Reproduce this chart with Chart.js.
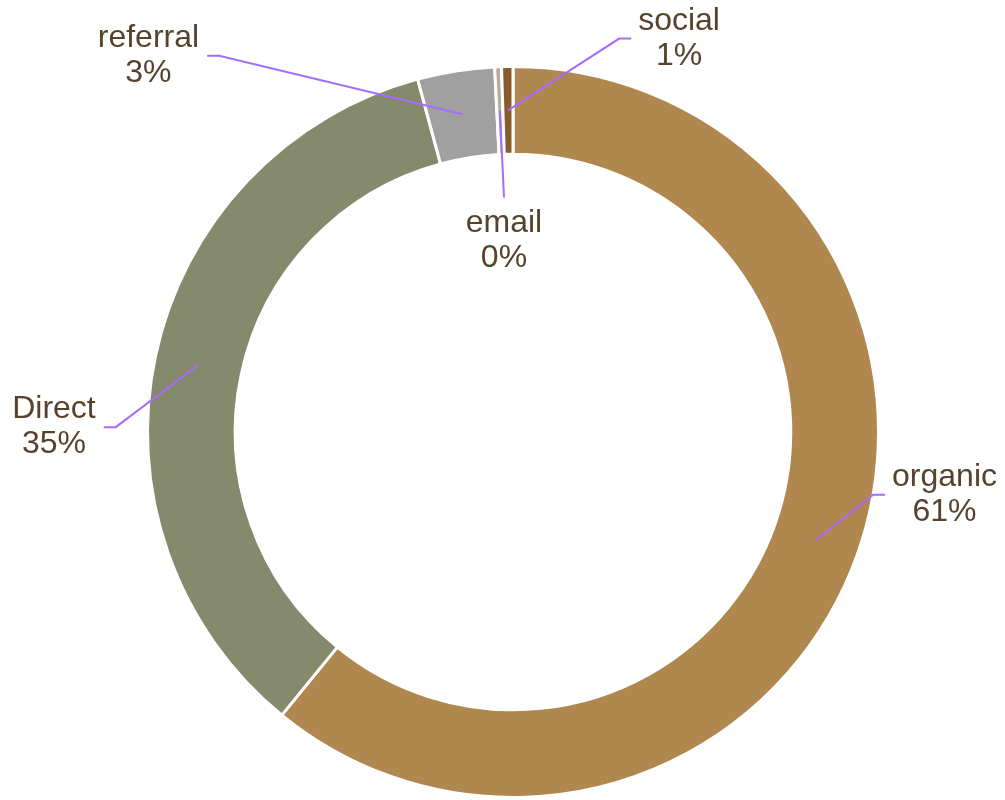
<!DOCTYPE html>
<html lang="en">
<head>
<meta charset="UTF-8">
<title>Traffic sources</title>
<script src="https://cdn.jsdelivr.net/npm/chart.js"></script>
<style>
  html, body { margin: 0; padding: 0; background: #fff; }
  #wrap { width: 1005px; height: 800px; }
</style>
</head>
<body>
<div id="wrap"><canvas id="srcChart" width="1005" height="800"></canvas></div>
<script>
// data
const sources = ['organic', 'Direct', 'referral', 'email', 'social'];
const shares = [60.9, 34.9, 3.4, 0.3, 0.5];
const sliceColors = ['#b0874f', '#868a6c', '#a0a0a0', '#b8ab9b', '#8a5a2f'];

// where each label's leader line bends: clock angle (deg from top), radius as part of outer radius, side
const labelLayout = [
  { angle: 99.9, r: 1.0, side: 'right' },
  { angle: 270.7, r: 1.087, side: 'left' },
  { angle: 322, r: 1.306, side: 'left' },
  { angle: 357.8, r: 0.642, side: 'below' },
  { angle: 15.1, r: 1.115, side: 'right' }
];

const LINE_COLOR = '#a66cff';
const TEXT_COLOR = '#57422b';
const FONT = '32px "Liberation Sans", Arial, sans-serif';

const leaderLabels = {
  id: 'leaderLabels',
  afterDraw(chart) {
    const ctx = chart.ctx;
    const meta = chart.getDatasetMeta(0);
    const total = shares.reduce((a, b) => a + b, 0);
    ctx.save();
    ctx.font = FONT;
    meta.data.forEach((arc, i) => {
      const p = arc.getProps(['x', 'y', 'startAngle', 'endAngle', 'innerRadius', 'outerRadius'], true);
      const mid = (p.startAngle + p.endAngle) / 2;
      const rMid = (p.innerRadius + p.outerRadius) / 2;
      const sx = p.x + Math.cos(mid) * rMid;
      const sy = p.y + Math.sin(mid) * rMid;
      const lay = labelLayout[i];
      const a = lay.angle * Math.PI / 180;
      const ex = p.x + Math.sin(a) * p.outerRadius * lay.r;
      const ey = p.y - Math.cos(a) * p.outerRadius * lay.r;

      const lines = [sources[i], Math.round(shares[i] / total * 100) + '%'];
      const w = Math.max(...lines.map(t => ctx.measureText(t).width));

      ctx.strokeStyle = LINE_COLOR;
      ctx.lineWidth = 2;
      ctx.beginPath();
      ctx.moveTo(sx, sy);
      ctx.lineTo(ex, ey);
      let tx, ty;
      if (lay.side === 'right') {
        ctx.lineTo(ex + 12, ey);
        tx = ex + 12 + 7 + w / 2;
        ty = ey - 17.5;
      } else if (lay.side === 'left') {
        ctx.lineTo(ex - 12, ey);
        tx = ex - 12 - 8 - w / 2;
        ty = ey - 17.5;
      } else {
        tx = ex;
        ty = ey + 26;
      }
      ctx.stroke();

      ctx.fillStyle = TEXT_COLOR;
      ctx.textAlign = 'center';
      ctx.textBaseline = 'middle';
      ctx.fillText(lines[0], tx, ty);
      ctx.fillText(lines[1], tx, ty + 35);
    });
    ctx.restore();
  }
};

new Chart(document.getElementById('srcChart'), {
  type: 'doughnut',
  data: {
    labels: sources,
    datasets: [{
      data: shares,
      backgroundColor: sliceColors,
      borderColor: '#ffffff',
      borderWidth: 3
    }]
  },
  options: {
    responsive: false,
    animation: false,
    cutout: '76%',
    layout: { padding: { left: 21, right: 0, top: 65, bottom: 1 } },
    plugins: {
      legend: { display: false },
      tooltip: { enabled: false }
    }
  },
  plugins: [leaderLabels]
});
</script>
</body>
</html>
